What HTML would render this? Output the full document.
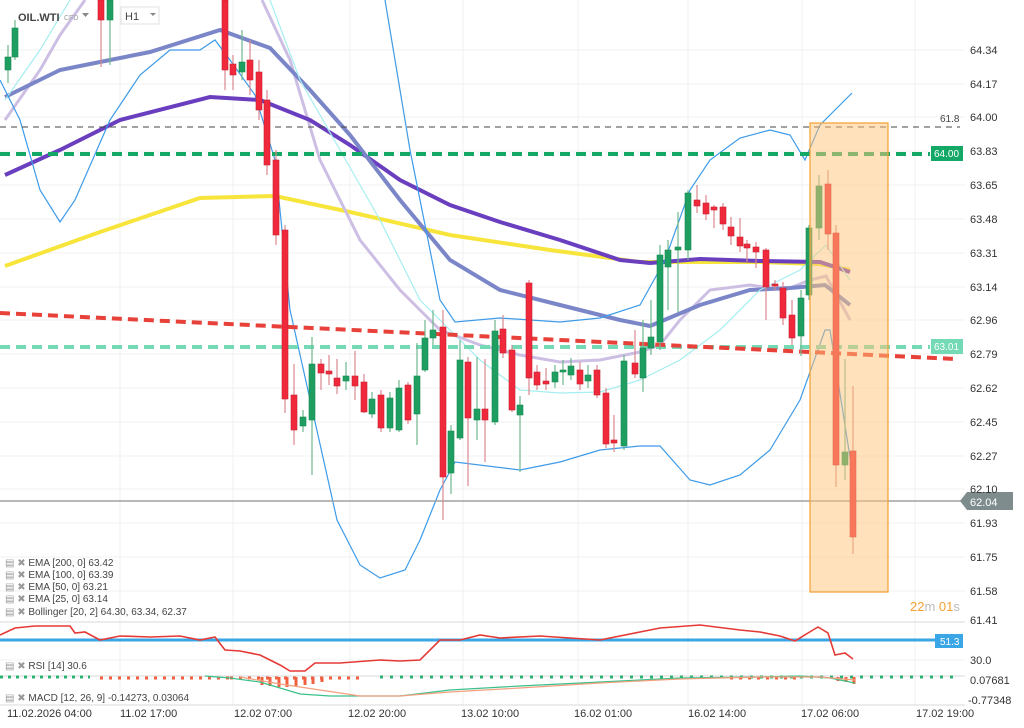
<!DOCTYPE html>
<html><head><meta charset="utf-8"><style>
html,body{margin:0;padding:0;background:#fff;width:1024px;height:728px;overflow:hidden;font-family:"Liberation Sans",sans-serif}
</style></head><body>
<svg width="1024" height="728" viewBox="0 0 1024 728" xmlns="http://www.w3.org/2000/svg" font-family="Liberation Sans, sans-serif">
<g stroke="#f0f0f0" stroke-width="1">
<line x1="0" y1="50" x2="965" y2="50"/><line x1="0" y1="84" x2="965" y2="84"/><line x1="0" y1="117" x2="965" y2="117"/><line x1="0" y1="151" x2="965" y2="151"/><line x1="0" y1="185" x2="965" y2="185"/><line x1="0" y1="219" x2="965" y2="219"/><line x1="0" y1="253" x2="965" y2="253"/><line x1="0" y1="287" x2="965" y2="287"/><line x1="0" y1="320" x2="965" y2="320"/><line x1="0" y1="354" x2="965" y2="354"/><line x1="0" y1="388" x2="965" y2="388"/><line x1="0" y1="422" x2="965" y2="422"/><line x1="0" y1="456" x2="965" y2="456"/><line x1="0" y1="489" x2="965" y2="489"/><line x1="0" y1="523" x2="965" y2="523"/><line x1="0" y1="557" x2="965" y2="557"/><line x1="0" y1="591" x2="965" y2="591"/>
<line x1="0" y1="660" x2="965" y2="660"/>
<line x1="120" y1="0" x2="120" y2="705"/><line x1="233" y1="0" x2="233" y2="705"/><line x1="350" y1="0" x2="350" y2="705"/><line x1="463" y1="0" x2="463" y2="705"/><line x1="578" y1="0" x2="578" y2="705"/><line x1="688" y1="0" x2="688" y2="705"/><line x1="802" y1="0" x2="802" y2="705"/><line x1="915" y1="0" x2="915" y2="705"/>
</g>
<g stroke="#d8d8d8" stroke-width="1"><line x1="0" y1="622" x2="965" y2="622"/><line x1="0" y1="676" x2="965" y2="676"/><line x1="0" y1="705" x2="965" y2="705"/></g>

<polyline fill="none" stroke="#f7e53c" stroke-width="4" points="5,266 100,232 200,198 275,196 350,212 450,235 550,250 640,262 700,262 760,262 820,264 850,270"/>
<polyline fill="none" stroke="#cdbfe3" stroke-width="3" points="5,120 40,70 60,35 85,0"/>
<polyline fill="none" stroke="#cdbfe3" stroke-width="3" points="262,0 290,60 320,160 360,240 400,290 440,330 480,345 520,355 560,362 600,360 640,352 660,345 680,320 710,290 750,285 785,290 810,280 826,276 850,320"/>
<polyline fill="none" stroke="#6a3fbf" stroke-width="4" points="5,175 60,150 120,120 210,97 260,100 310,120 350,145 400,180 450,205 500,222 560,240 620,260 650,263 700,259 760,261 820,262 850,272"/>
<polyline fill="none" stroke="#7a86c8" stroke-width="4" points="5,97 60,70 100,62 150,52 220,30 270,48 310,90 350,135 400,200 450,260 500,290 560,305 620,320 650,326 700,305 750,290 790,288 825,285 850,305"/>
<polyline fill="none" stroke="#a6eef0" stroke-width="1.2" points="5,100 40,50 70,0"/>
<polyline fill="none" stroke="#a6eef0" stroke-width="1.2" points="270,0 300,80 340,150 380,220 420,300 450,330 480,360 520,390 560,393 600,392 640,380 680,360 720,330 760,290 800,270 826,245 850,280"/>
<polyline fill="none" stroke="#3d9be9" stroke-width="1.2" points="0,80 20,120 40,190 60,222 75,200 110,120 140,75 170,50 200,50 215,40 230,60 255,95 275,160 290,310 337,520 360,565 380,578 405,570 420,540 440,490 455,462 520,470 560,462 600,450 640,446 660,446 690,480 710,485 740,475 770,450 800,400 825,330 830,330 852,470"/>
<polyline fill="none" stroke="#3d9be9" stroke-width="1.2" points="385,0 410,150 440,300 455,322 500,318 560,322 600,318 640,305 665,260 690,190 710,160 740,138 770,130 790,135 805,160 820,125 852,93"/>

<line x1="0" y1="127" x2="960" y2="127" stroke="#444" stroke-dasharray="6,5" stroke-width="1"/>
<text x="940" y="122" font-size="10" fill="#444">61.8</text>
<line x1="0" y1="154" x2="930" y2="154" stroke="#14a866" stroke-dasharray="10,6" stroke-width="4"/>
<rect x="931" y="146" width="32" height="15" fill="#14a866"/><text x="934" y="157" font-size="10" fill="#fff">64.00</text>
<line x1="0" y1="347" x2="930" y2="347" stroke="#74dab5" stroke-dasharray="10,6" stroke-width="4"/>
<rect x="931" y="339" width="32" height="15" fill="#74dab5"/><text x="934" y="350" font-size="10" fill="#fff">63.01</text>
<line x1="0" y1="313" x2="955" y2="359" stroke="#e8413a" stroke-dasharray="10,6" stroke-width="4"/>
<line x1="0" y1="501" x2="965" y2="501" stroke="#a0a0a0" stroke-width="1.5"/>

<!-- wicks -->
<path fill="none" stroke="#6fb890" stroke-width="1.2" d="M8 45V83M15 20V60M110 0V65M242 30V80M303 410V432M312 337V475M346 362V390M372 392V418M390 392V432M399 380V432M417 343V445M425 320V372M433 310V345M451 425V494M460 340V440M477 357V440M495 320V425M520 396V472M555 365V388M563 360V385M571 358V380M588 365V388M624 355V450M643 320V392M651 300V355M660 245V350M668 240V310M678 212V312M688 190V260M801 290V356M809 225V300M819 175V240M845 359V480"/>
<path fill="none" stroke="#d88890" stroke-width="1.2" d="M101 0V67M225 0V90M233 55V90M250 40V95M259 60V120M267 90V175M276 150V245M285 225V413M294 364V445M321 359V390M329 355V385M337 359V394M355 351V400M364 374V413M381 390V432M408 382V424M443 310V520M468 357V486M485 359V462M503 315V358M512 345V412M529 280V395M537 365V390M546 368V390M580 362V390M597 365V398M606 388V448M614 415V452M635 330V378M697 185V213M706 195V220M714 205V228M723 203V230M731 217V245M740 218V252M747 240V262M756 242V268M766 248V320M775 280V290M783 282V325M792 300V345M828 170V250M836 225V487M853 386V554"/>
<g fill="#1f9e62" stroke="#188a52" stroke-width="0.6">
<rect x="5" y="57" width="6" height="13"/><rect x="12" y="28" width="6" height="29"/><rect x="107" y="0" width="6" height="20"/><rect x="239" y="62" width="6" height="10"/><rect x="300" y="417" width="6" height="9"/><rect x="309" y="364" width="6" height="56"/><rect x="343" y="376" width="6" height="5"/><rect x="369" y="399" width="6" height="15"/><rect x="387" y="398" width="6" height="30"/><rect x="396" y="388" width="6" height="42"/><rect x="414" y="376" width="6" height="38"/><rect x="422" y="338" width="6" height="32"/><rect x="430" y="330" width="6" height="8"/><rect x="448" y="431" width="6" height="42"/><rect x="457" y="360" width="6" height="78"/><rect x="474" y="409" width="6" height="11"/><rect x="492" y="331" width="6" height="91"/><rect x="517" y="405" width="6" height="10"/><rect x="552" y="372" width="6" height="10"/><rect x="560" y="370" width="6" height="2"/><rect x="568" y="366" width="6" height="9"/><rect x="585" y="375" width="6" height="6"/><rect x="621" y="361" width="6" height="85"/><rect x="640" y="348" width="6" height="30"/><rect x="648" y="337" width="6" height="11"/><rect x="657" y="255" width="6" height="87"/><rect x="665" y="250" width="6" height="17"/><rect x="675" y="247" width="6" height="3"/><rect x="685" y="193" width="6" height="57"/><rect x="798" y="298" width="6" height="38"/><rect x="806" y="228" width="6" height="67"/><rect x="816" y="186" width="6" height="42"/><rect x="842" y="452" width="6" height="13"/>
</g>
<g fill="#f0283c" stroke="#c82030" stroke-width="0.6">
<rect x="98" y="0" width="6" height="20"/><rect x="222" y="0" width="6" height="70"/><rect x="230" y="64" width="6" height="11"/><rect x="247" y="60" width="6" height="20"/><rect x="256" y="72" width="6" height="38"/><rect x="264" y="100" width="6" height="65"/><rect x="273" y="160" width="6" height="75"/><rect x="282" y="230" width="6" height="169"/><rect x="291" y="395" width="6" height="35"/><rect x="318" y="364" width="6" height="9"/><rect x="326" y="371" width="6" height="3"/><rect x="334" y="378" width="6" height="8"/><rect x="352" y="376" width="6" height="10"/><rect x="361" y="382" width="6" height="30"/><rect x="378" y="395" width="6" height="33"/><rect x="405" y="385" width="6" height="35"/><rect x="440" y="327" width="6" height="150"/><rect x="465" y="362" width="6" height="56"/><rect x="482" y="409" width="6" height="11"/><rect x="500" y="329" width="6" height="24"/><rect x="509" y="350" width="6" height="60"/><rect x="526" y="283" width="6" height="95"/><rect x="534" y="372" width="6" height="13"/><rect x="543" y="381" width="6" height="3"/><rect x="577" y="370" width="6" height="14"/><rect x="594" y="370" width="6" height="25"/><rect x="603" y="393" width="6" height="51"/><rect x="611" y="440" width="6" height="3"/><rect x="632" y="363" width="6" height="11"/><rect x="694" y="200" width="6" height="6"/><rect x="703" y="203" width="6" height="11"/><rect x="711" y="207" width="6" height="3"/><rect x="720" y="207" width="6" height="17"/><rect x="728" y="227" width="6" height="9"/><rect x="737" y="237" width="6" height="9"/><rect x="744" y="244" width="6" height="4"/><rect x="753" y="247" width="6" height="5"/><rect x="763" y="250" width="6" height="37"/><rect x="772" y="284" width="6" height="2"/><rect x="780" y="288" width="6" height="30"/><rect x="789" y="315" width="6" height="23"/><rect x="825" y="184" width="6" height="50"/><rect x="833" y="233" width="6" height="232"/><rect x="850" y="451" width="6" height="86"/>
</g>

<rect x="810" y="123" width="78" height="469" fill="rgba(255,196,120,0.5)" stroke="#f5a030" stroke-width="1.2"/>

<polygon points="960,501 967,492 1013,492 1013,510 967,510" fill="#7f8c8d"/>
<text x="970" y="506" font-size="11" fill="#fff">62.04</text>

<g font-size="11" fill="#333">
<text x="970" y="54">64.34</text><text x="970" y="88">64.17</text><text x="970" y="121">64.00</text><text x="970" y="155">63.83</text><text x="970" y="189">63.65</text><text x="970" y="223">63.48</text><text x="970" y="257">63.31</text><text x="970" y="291">63.14</text><text x="970" y="324">62.96</text><text x="970" y="358">62.79</text><text x="970" y="392">62.62</text><text x="970" y="426">62.45</text><text x="970" y="460">62.27</text><text x="970" y="493">62.10</text><text x="970" y="527">61.93</text><text x="970" y="561">61.75</text><text x="970" y="595">61.58</text><text x="970" y="624">61.41</text>
<text x="970" y="664">30.0</text><text x="970" y="684">0.07681</text><text x="968" y="704">-0.77348</text>
</g>
<text x="910" y="611" font-size="13" fill="#f5a030">22<tspan fill="#bbb">m</tspan> 01<tspan fill="#bbb">s</tspan></text>

<line x1="0" y1="640" x2="935" y2="640" stroke="#3aa6e6" stroke-width="3"/>
<rect x="935" y="634" width="28" height="14" fill="#3aa6e6"/><text x="940" y="645" font-size="10" fill="#fff">51.3</text>
<polyline fill="none" stroke="#e53935" stroke-width="1.6" points="0,635 15,628 35,626 70,626 75,633 85,632 100,640 120,636 150,637 180,636 200,640 215,637 225,650 240,651 260,655 280,665 290,671 305,671 315,663 340,663 380,660 400,661 420,660 440,640 460,640 480,635 500,638 540,636 600,640 640,632 660,628 700,625 740,630 760,632 780,636 795,641 808,633 818,627 828,633 835,655 845,653 853,659"/>

<g stroke-width="3">
<line x1="0" y1="677" x2="90" y2="677" stroke="#2cb070" stroke-dasharray="3,5"/>
<line x1="100" y1="678" x2="230" y2="678" stroke="#f06040" stroke-dasharray="3,6"/>
<line x1="230" y1="678" x2="360" y2="678" stroke="#f06040" stroke-dasharray="3,6"/>
<line x1="380" y1="677" x2="960" y2="677" stroke="#2cb070" stroke-dasharray="3,7"/>
<line x1="730" y1="678" x2="800" y2="678" stroke="#f06040" stroke-dasharray="3,6"/>
</g>
<g stroke="#f06040" stroke-width="3"><line x1="262" y1="677" x2="262" y2="685"/><line x1="270" y1="677" x2="270" y2="686"/><line x1="279" y1="677" x2="279" y2="687"/><line x1="287" y1="677" x2="287" y2="687"/><line x1="296" y1="677" x2="296" y2="686"/><line x1="305" y1="677" x2="305" y2="685"/><line x1="313" y1="677" x2="313" y2="684"/><line x1="322" y1="677" x2="322" y2="682"/><line x1="838" y1="677" x2="838" y2="681"/><line x1="846" y1="677" x2="846" y2="682"/><line x1="854" y1="677" x2="854" y2="684"/></g>
<polyline fill="none" stroke="#3cc08a" stroke-width="1.2" points="205,676 230,678 260,682 280,688 300,694 330,696 360,696 400,696 450,690 520,686 600,682 680,678 760,677 800,676 830,678 855,683"/>
<polyline fill="none" stroke="#f4a080" stroke-width="1.2" points="240,677 280,684 320,690 360,696 400,696 450,692 520,688 600,683 680,679 760,677 820,677 855,680"/>

<g font-size="10" fill="#444">
<text x="5" y="566"><tspan fill="#999">▤ ✖</tspan> EMA [200, 0] 63.42</text>
<text x="5" y="578"><tspan fill="#999">▤ ✖</tspan> EMA [100, 0] 63.39</text>
<text x="5" y="590"><tspan fill="#999">▤ ✖</tspan> EMA [50, 0] 63.21</text>
<text x="5" y="602"><tspan fill="#999">▤ ✖</tspan> EMA [25, 0] 63.14</text>
<text x="5" y="615"><tspan fill="#999">▤ ✖</tspan> Bollinger  [20, 2] 64.30,  63.34,  62.37</text>
<text x="5" y="669"><tspan fill="#999">▤ ✖</tspan> RSI [14] 30.6</text>
<text x="5" y="701"><tspan fill="#999">▤ ✖</tspan> MACD [12, 26, 9] -0.14273,  0.03064</text>
</g>
<g font-size="11" fill="#333">
<text x="7" y="717">11.02.2026  04:00</text><text x="120" y="717">11.02  17:00</text><text x="234" y="717">12.02  07:00</text><text x="348" y="717">12.02  20:00</text><text x="461" y="717">13.02  10:00</text><text x="574" y="717">16.02  01:00</text><text x="688" y="717">16.02  14:00</text><text x="801" y="717">17.02  06:00</text><text x="916" y="717">17.02  19:00</text>
</g>
<text x="18" y="21" font-size="11" font-weight="bold" fill="#444">OIL.WTI</text>
<text x="64" y="20" font-size="7" fill="#999">CFD</text>
<polygon points="82,13 89,13 85.5,17" fill="#888"/>
<rect x="121" y="7" width="38" height="17" fill="#fff" stroke="#e0e0e0"/>
<text x="125" y="20" font-size="11" fill="#444">H1</text>
<polygon points="150,13 156,13 153,16" fill="#888"/>
</svg>
</body></html>
